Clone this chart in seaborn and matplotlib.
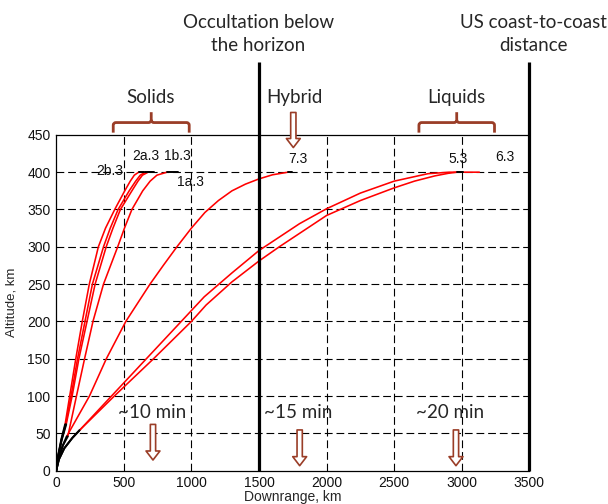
import numpy as np
import pandas as pd
import matplotlib
matplotlib.use("Agg")
import matplotlib.pyplot as plt
import seaborn as sns
from matplotlib.path import Path
from matplotlib.patches import PathPatch, FancyArrowPatch, ArrowStyle

# ---------------- data ----------------
curve_labels = ["2b.3", "2a.3", "1b.3", "1a.3", "7.3", "5.3", "6.3"]

# boost phase (black)
boost_alt_solid = [0, 20, 42, 62]
boost_dr_2b3 = [0, 14, 38, 66]
boost_dr_2a3 = [0, 15, 40, 70]
boost_dr_1b3 = [0, 16, 42, 74]
boost_alt_1a3 = [0, 18, 34, 46]
boost_dr_1a3 = [0, 22, 50, 86]
boost_alt_7 = [0, 15, 32, 46]
boost_dr_7 = [0, 15, 45, 78]
boost_alt_liq = [0, 15, 30, 44, 54]
boost_dr_liq = [0, 20, 60, 120, 172]

# ascent phase (red)
ascent_alt_solid = [62, 100, 150, 200, 250, 300, 325, 350, 375, 388, 396, 400]
ascent_dr_2b3 = [66, 100, 145, 193, 245, 312, 365, 433, 507, 548, 578, 610]
ascent_dr_2a3 = [70, 110, 158, 213, 268, 350, 400, 458, 540, 588, 622, 660]
ascent_dr_1b3 = [74, 118, 168, 228, 288, 370, 420, 475, 560, 605, 638, 680]
ascent_alt_1a3 = [46, 100, 150, 200, 250, 300, 325, 350, 375, 388, 396, 400]
ascent_dr_1a3 = [86, 150, 210, 272, 350, 455, 505, 560, 640, 695, 745, 820]
ascent_alt_7 = [46, 100, 150, 200, 250, 275, 300, 325, 346, 362, 375, 384, 391, 396.5, 400]
ascent_dr_7 = [78, 246, 371, 515, 694, 792, 893, 1000, 1100, 1200, 1300, 1400, 1500, 1600, 1715]
ascent_alt_5 = [54, 100, 150, 200, 222, 253, 281, 300, 318, 342, 362, 379, 388, 395, 398.5, 400]
ascent_dr_5 = [172, 430, 720, 1000, 1109, 1300, 1500, 1650, 1800, 2000, 2250, 2500, 2650, 2800, 2900, 2965]
ascent_alt_6 = [54, 100, 150, 200, 233, 265, 295, 313, 331, 351, 372, 388, 396, 398, 400, 400]
ascent_dr_6 = [172, 409, 667, 925, 1095, 1300, 1500, 1650, 1800, 2000, 2250, 2500, 2700, 2750, 2910, 3130]

# final coast at orbit altitude (black)
coast_labels = ["2b.3", "2a.3", "1b.3", "1a.3", "7.3", "5.3"]
coast_from = [610, 660, 680, 820, 1715, 2965]
coast_to = [650, 706, 720, 903, 1745, 3010]
orbit_alt = 400

# curve labels
label_x = [398, 663, 893, 990, 1785, 2974, 3320]
label_y = [401, 422, 422, 387, 417, 418, 420]

# reference distances (thick lines)
ref_lines_x = [1500, 3500]
ref_lines_top = 547

x_ticks = [0, 500, 1000, 1500, 2000, 2500, 3000, 3500]
y_ticks = [0, 50, 100, 150, 200, 250, 300, 350, 400, 450]

# ---------------- build tidy frame ----------------
boost = {"2b.3": (boost_dr_2b3, boost_alt_solid), "2a.3": (boost_dr_2a3, boost_alt_solid),
         "1b.3": (boost_dr_1b3, boost_alt_solid), "1a.3": (boost_dr_1a3, boost_alt_1a3),
         "7.3": (boost_dr_7, boost_alt_7), "5.3": (boost_dr_liq, boost_alt_liq),
         "6.3": (boost_dr_liq, boost_alt_liq)}
ascent = {"2b.3": (ascent_dr_2b3, ascent_alt_solid), "2a.3": (ascent_dr_2a3, ascent_alt_solid),
          "1b.3": (ascent_dr_1b3, ascent_alt_solid), "1a.3": (ascent_dr_1a3, ascent_alt_1a3),
          "7.3": (ascent_dr_7, ascent_alt_7), "5.3": (ascent_dr_5, ascent_alt_5),
          "6.3": (ascent_dr_6, ascent_alt_6)}
rows = []
for name in curve_labels:
    for phase, src in (("boost", boost), ("ascent", ascent)):
        xs, ys = src[name]
        for i, (x, y) in enumerate(zip(xs, ys)):
            rows.append(dict(curve=name, phase=phase, unit=f"{name}-{phase}", order=i, dr=x, alt=y))
for name, a, b in zip(coast_labels, coast_from, coast_to):
    for i, x in enumerate((a, b)):
        rows.append(dict(curve=name, phase="coast", unit=f"{name}-coast", order=i, dr=x, alt=orbit_alt))
df = pd.DataFrame(rows)

# ---------------- figure ----------------
sns.set_style("white")
plt.rcParams["font.family"] = ["Liberation Sans", "DejaVu Sans"]
ann_font = ["Lato", "DejaVu Sans"]
brown = "#9a3d27"

fig = plt.figure(figsize=(6.08, 5.04), dpi=100)
ax = fig.add_axes([0.0924, 0.0661, 0.7783, 0.6663])

ax.set_xlim(0, 3500)
ax.set_ylim(0, 450)
ax.set_xticks(x_ticks)
ax.set_yticks(y_ticks)
ax.tick_params(axis="both", length=0, labelsize=10, pad=4, labelcolor="#111111")

# grid
for xv in x_ticks[1:-1]:
    if xv in ref_lines_x:
        continue
    ax.axvline(xv, color="black", lw=0.8, ls=(0, (7, 3.5)), zorder=1)
for yv in y_ticks[1:-1]:
    ax.axhline(yv, color="black", lw=0.8, ls=(0, (7, 3.5)), zorder=1)

# trajectories
red = df[df.phase == "ascent"]
blk = df[df.phase != "ascent"]
sns.lineplot(data=red, x="dr", y="alt", units="unit", estimator=None, sort=False,
             color="#ff0000", lw=1.15, ax=ax, legend=False, zorder=3)
sns.lineplot(data=blk, x="dr", y="alt", units="unit", estimator=None, sort=False,
             color="black", lw=1.4, ax=ax, legend=False, zorder=4)

for lab, lx, ly in zip(curve_labels, label_x, label_y):
    ax.text(lx, ly, lab, ha="center", va="center", fontsize=10, color="#111111", zorder=5)

# spines
for s in ("left", "bottom", "top"):
    ax.spines[s].set_color("black")
    ax.spines[s].set_linewidth(0.9)
ax.spines["right"].set_visible(False)

for xv in ref_lines_x:
    ax.plot([xv, xv], [0, ref_lines_top], color="black", lw=2.3, clip_on=False, zorder=6,
            solid_capstyle="butt")

ax.set_xlabel("Downrange, km", fontsize=10, va="center")
ax.set_ylabel("Altitude, km", fontsize=9.5, va="center")
ax.xaxis.set_label_coords(0.5, -0.078)
ax.yaxis.set_label_coords(-0.0934, 0.5)

# annotation texts
fig.text(258.5 / 608, 1 - 22.7 / 504, "Occultation below", ha="center", va="center",
         fontsize=13.5, family=ann_font)
fig.text(258.5 / 608, 1 - 45.7 / 504, "the horizon", ha="center", va="center",
         fontsize=13.5, family=ann_font)
fig.text(533 / 608, 1 - 22.7 / 504, "US coast-to-coast", ha="center", va="center",
         fontsize=13.5, family=ann_font)
fig.text(533 / 608, 1 - 45.7 / 504, "distance", ha="center", va="center",
         fontsize=13.5, family=ann_font)
for txt, px in (("Solids", 150.8), ("Hybrid", 294), ("Liquids", 456)):
    fig.text(px / 608, 1 - 97.3 / 504, txt, ha="center", va="center", fontsize=13.5, family=ann_font)

for txt, xv in (("~10 min", 712), ("~15 min", 1789), ("~20 min", 2912)):
    ax.text(xv, 70, txt, ha="center", va="baseline", fontsize=13.5, family=ann_font, zorder=5)


# braces
def brace(x0, x1, yb, ybar, ytip, rx=20, ry=3.5):
    xc = (x0 + x1) / 2
    verts = [(x0, yb), (x0, ybar - ry), (x0, ybar), (x0 + rx, ybar), (xc - rx, ybar),
             (xc, ybar), (xc, ybar + ry), (xc, ytip),
             (xc, ybar + ry), (xc, ybar), (xc + rx, ybar), (x1 - rx, ybar),
             (x1, ybar), (x1, ybar - ry), (x1, yb)]
    codes = [Path.MOVETO, Path.LINETO, Path.CURVE3, Path.CURVE3, Path.LINETO,
             Path.CURVE3, Path.CURVE3, Path.LINETO,
             Path.MOVETO, Path.CURVE3, Path.CURVE3, Path.LINETO,
             Path.CURVE3, Path.CURVE3, Path.LINETO]
    p = PathPatch(Path(verts, codes), fill=False, edgecolor=brown, lw=2.0,
                  clip_on=False, capstyle="butt", joinstyle="round", zorder=6)
    ax.add_patch(p)


brace(422, 984, 453, 466.5, 480.4)
brace(2683, 3242, 453, 466.5, 480.4)


# hollow arrows
def down_arrow(xv, ytop, ytip):
    st = ArrowStyle.Simple(head_length=6.5, head_width=10, tail_width=3.8)
    a = FancyArrowPatch((xv, ytop), (xv, ytip), arrowstyle=st, mutation_scale=1,
                        facecolor="white", edgecolor=brown, lw=1.2, shrinkA=0, shrinkB=0,
                        clip_on=False, zorder=7)
    ax.add_patch(a)


down_arrow(1754, 480, 433)
down_arrow(716, 62, 14.3)
down_arrow(1801, 54.6, 6.7)
down_arrow(2957, 54.6, 6.7)

fig.savefig("out.png", dpi=100)
